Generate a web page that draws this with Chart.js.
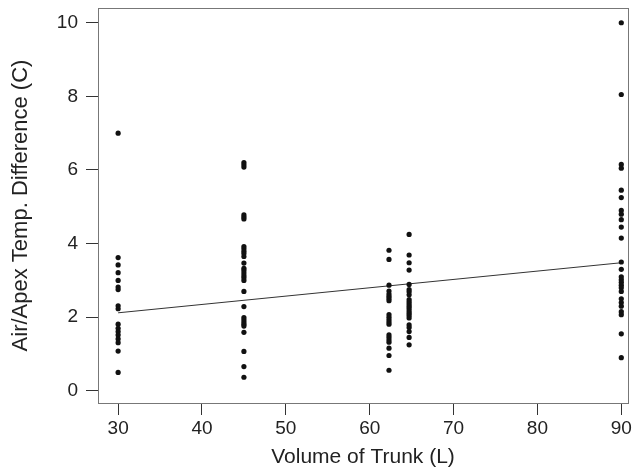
<!DOCTYPE html>
<html>
<head>
<meta charset="utf-8">
<script src="https://cdn.jsdelivr.net/npm/chart.js@4.4.0/dist/chart.umd.min.js"></script>
<style>
    html, body { margin: 0; padding: 0; background: #fff; }
</style>
</head>
<body>
<canvas id="graficoTronco" width="641" height="472"></canvas>
<script>
// volumes do tronco (L) onde as medidas foram feitas
const volumes = [30, 45, 62.3, 64.7, 90];

// diferenca de temperatura ar/apice (C) em cada volume
const temps30 = [7.0, 3.62, 3.42, 3.21, 3.0, 2.82, 2.75, 2.31, 2.23, 1.81, 1.70, 1.61, 1.52, 1.41, 1.31, 1.08, 0.5];
const temps45 = [6.2, 6.14, 6.08, 4.78, 4.72, 4.67, 3.92, 3.86, 3.79, 3.73, 3.65, 3.47, 3.33, 3.27, 3.2, 3.13, 3.07, 3.0, 2.7, 2.29, 1.99, 1.93, 1.87, 1.81, 1.76, 1.59, 1.07, 0.66, 0.37];
const temps62 = [3.82, 3.57, 2.87, 2.71, 2.63, 2.57, 2.51, 2.45, 2.07, 2.0, 1.93, 1.87, 1.81, 1.52, 1.45, 1.38, 1.32, 1.16, 0.96, 0.56];
const temps64 = [4.25, 3.69, 3.48, 3.28, 2.89, 2.75, 2.69, 2.61, 2.48, 2.42, 2.36, 2.3, 2.24, 2.17, 2.11, 2.05, 1.98, 1.79, 1.72, 1.61, 1.45, 1.25];
const temps90 = [10.0, 8.05, 6.15, 6.05, 5.45, 5.25, 4.9, 4.8, 4.65, 4.45, 4.15, 3.5, 3.3, 3.1, 3.02, 2.95, 2.87, 2.8, 2.7, 2.5, 2.4, 2.3, 2.15, 2.07, 1.55, 0.9];

// reta de regressao
const retaX = [30, 90];
const retaY = [2.12, 3.48];

// marcas dos eixos
const ticksX = [30, 40, 50, 60, 70, 80, 90];
const ticksY = [0, 2, 4, 6, 8, 10];

const fonte = '"Liberation Sans", Arial, Helvetica, sans-serif';

// monta os pontos a partir das listas
const grupos = [temps30, temps45, temps62, temps64, temps90];
let pontos = [];
grupos.forEach((lista, i) => {
    lista.forEach((t) => {
        pontos.push({ x: volumes[i], y: t });
    });
});

let reta = [];
for (let i = 0; i < retaX.length; i++) {
    reta.push({ x: retaX[i], y: retaY[i] });
}

// desenha a moldura em volta da area do grafico
const moldura = {
    id: 'moldura',
    beforeDatasetsDraw(chart) {
        const { ctx, chartArea } = chart;
        ctx.save();
        ctx.strokeStyle = '#777';
        ctx.lineWidth = 1;
        ctx.strokeRect(chartArea.left + 0.5, chartArea.top + 0.5, chartArea.right - chartArea.left, chartArea.bottom - chartArea.top);
        ctx.restore();
    }
};

const config = {
    type: 'scatter',
    data: {
        datasets: [
            {
                label: 'Medidas',
                data: pontos,
                backgroundColor: '#111',
                borderColor: '#111',
                pointRadius: 2.6,
                pointBorderWidth: 0
            },
            {
                type: 'line',
                label: 'Regressao',
                data: reta,
                borderColor: '#333',
                borderWidth: 1,
                pointRadius: 0,
                fill: false,
                tension: 0
            }
        ]
    },
    options: {
        responsive: false,
        animation: false,
        layout: { padding: { top: 8, right: 13, left: 0, bottom: 0 } },
        plugins: {
            legend: { display: false },
            tooltip: { enabled: false }
        },
        scales: {
            x: {
                type: 'linear',
                min: 27.6,
                max: 90.8,
                afterBuildTicks: (scale) => { scale.ticks = ticksX.map(v => ({ value: v })); },
                afterFit: (scale) => { scale.height = 69; scale.paddingLeft = 0; scale.paddingRight = 0; },
                grid: { drawOnChartArea: false, drawTicks: true, tickLength: 12, tickColor: '#333' },
                border: { display: true, color: '#222', width: 1 },
                ticks: { color: '#222', padding: 2, maxRotation: 0, font: { family: fonte, size: 19 } },
                title: { display: true, text: 'Volume of Trunk (L)', color: '#222', padding: { top: 2, bottom: 2 }, font: { family: fonte, size: 21 } }
            },
            y: {
                type: 'linear',
                min: -0.33,
                max: 10.4,
                afterBuildTicks: (scale) => { scale.ticks = ticksY.map(v => ({ value: v })); },
                afterFit: (scale) => { scale.width = 98; scale.paddingTop = 0; scale.paddingBottom = 0; },
                grid: { drawOnChartArea: false, drawTicks: true, tickLength: 12, tickColor: '#333' },
                border: { display: true, color: '#222', width: 1 },
                ticks: { color: '#222', padding: 8, font: { family: fonte, size: 19 } },
                title: { display: true, text: 'Air/Apex Temp. Difference (C)', color: '#222', padding: { top: 8, bottom: 0 }, font: { family: fonte, size: 22 } }
            }
        }
    },
    plugins: [moldura]
};

let myChart = new Chart(document.getElementById('graficoTronco'), config);
</script>
</body>
</html>
